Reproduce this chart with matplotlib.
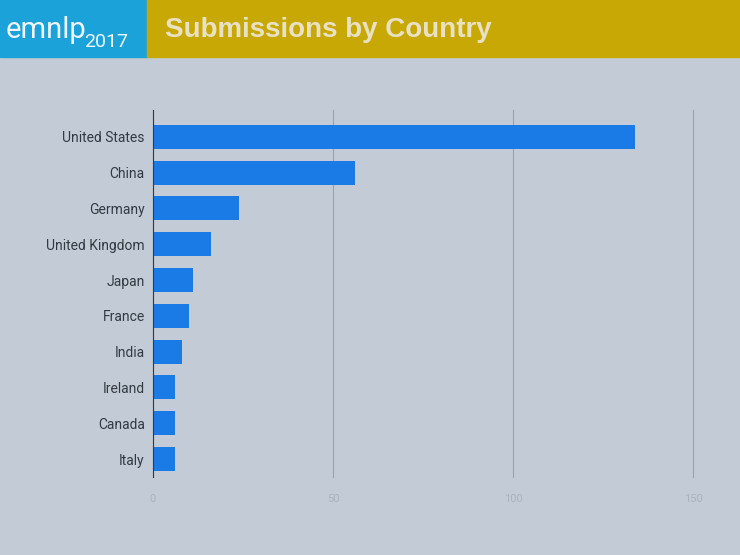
import matplotlib.pyplot as plt
from matplotlib.patches import Rectangle

countries = ['United States', 'China', 'Germany', 'United Kingdom', 'Japan',
             'France', 'India', 'Ireland', 'Canada', 'Italy']
submissions = [134, 56, 24, 16, 11, 10, 8, 6, 6, 6]
xticks = [0, 50, 100, 150]

bg = '#c3ccd6'
fig = plt.figure(figsize=(7.4, 5.55), dpi=100, facecolor=bg)

# slide header
fig.patches.append(Rectangle((0, 1 - 57 / 555), 147 / 740, 57 / 555,
                             transform=fig.transFigure, color='#1ba3d9', zorder=0))
fig.patches.append(Rectangle((147 / 740, 1 - 57 / 555), 1 - 147 / 740, 57 / 555,
                             transform=fig.transFigure, color='#c8a805', zorder=0))
fig.text(6 / 740, 1 - 30 / 555, 'emnlp', color='#eef6fb', fontsize=21,
         family='Roboto', va='center', ha='left')
fig.text(84 / 740, 1 - 42 / 555, '2017', color='#eef6fb', fontsize=14,
         family='Roboto', va='center', ha='left')
fig.text(165 / 740, 1 - 30 / 555, 'Submissions by Country', color='#e9e1c4',
         fontsize=20, fontweight='bold', family='Liberation Sans',
         va='center', ha='left')

ax = fig.add_axes([153 / 740, 1 - 477 / 555, 540 / 740, 367 / 555])
ax.set_facecolor(bg)
ypos = list(range(len(countries)))
ax.barh(ypos, submissions, height=0.67, color='#1a7be6', zorder=3)
ax.set_yticks(ypos)
ax.set_yticklabels(countries, fontsize=10, color='#333a44', family='Roboto')
ax.set_ylim(9.5, -0.75)
ax.set_xlim(0, 150)
ax.set_xticks(xticks)
ax.set_xticklabels([str(t) for t in xticks], fontsize=8, color='#a9b3c0',
                   family='Roboto')
ax.grid(axis='x', color='#9aa3ad', linewidth=0.8, zorder=0)
for gl in ax.get_xgridlines():
    gl.set_clip_on(False)
ax.tick_params(axis='y', length=0, pad=6)
ax.tick_params(axis='x', length=0, pad=12)
for s in ['top', 'right', 'bottom']:
    ax.spines[s].set_visible(False)
ax.spines['left'].set_color('#333a44')
ax.spines['left'].set_zorder(4)

fig.savefig('out.png', dpi=100, facecolor=bg)
